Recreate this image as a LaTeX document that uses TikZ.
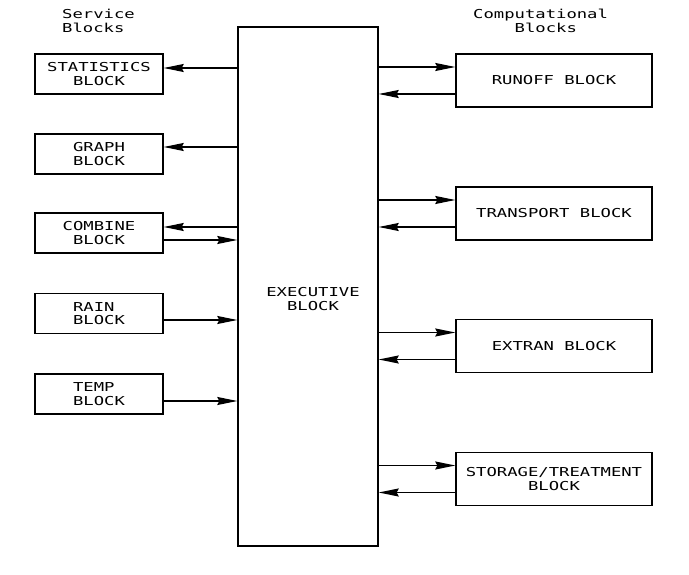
\documentclass[tikz,border=0pt]{standalone}
\usepackage{fontspec}
\newfontfamily\plotfont[FakeStretch=1.4]{DejaVu Sans Mono}
\usetikzlibrary{arrows.meta}
\usetikzlibrary{positioning}
\tikzstyle{txt}=[inner sep=0pt,font=\plotfont\fontsize{12.3}{13.5}\selectfont]
\tikzstyle{svc}=[txt,shape=rectangle,draw,line width=1.4pt,minimum width=128,minimum height=40,align=center]
\tikzstyle{cmp}=[txt,shape=rectangle,draw,line width=1.4pt,minimum width=196,minimum height=53,align=center]
\tikzstyle{flow}=[draw,line width=1.3pt,-{Stealth[length=20pt,width=8pt,inset=2pt]}]

\begin{document}
\begin{tikzpicture}[x=1pt,y=-1pt]
\useasboundingbox (0,0) rectangle (689,575);

% headings
\node[txt,anchor=west,align=left] (srvhdr) at (62,21) {Service\\Blocks};
\node[txt,anchor=west,align=left] (cmphdr) at (473,21) {Computational\\\phantom{xxxx}Blocks};

% executive
\node[draw,line width=1.4pt,minimum width=140,minimum height=519,inner sep=0pt] (exec) at (308,286.5) {};
\node[txt,align=center] (execlbl) at (313,299) {EXECUTIVE\\BLOCK};

% service blocks
\node[svc] (stat) at (99,74) {STATISTICS\\BLOCK};
\node[svc] (graph) at (99,154) {GRAPH\\BLOCK};
\node[svc] (comb) at (99,233) {COMBINE\\BLOCK};
\node[svc,align=left] (rain) at (99,313.5) {RAIN\\BLOCK};
\node[svc,align=left] (temp) at (99,394) {TEMP\\BLOCK};

% computational blocks
\node[cmp] (runoff) at (554,80.5) {RUNOFF BLOCK};
\node[cmp] (trans) at (554,213.5) {TRANSPORT BLOCK};
\node[cmp] (extran) at (554,346) {EXTRAN BLOCK};
\node[cmp] (stor) at (554,479) {STORAGE/TREATMENT\\BLOCK};

\draw[flow] ([yshift=6pt]stat.east -| exec.west) -- ([yshift=6pt]stat.east);
\draw[flow] ([yshift=7pt]graph.east -| exec.west) -- ([yshift=7pt]graph.east);
\draw[flow] ([yshift=6pt]comb.east -| exec.west) -- ([yshift=6pt]comb.east);
\draw[flow] ([yshift=-7pt]comb.east) -- ([yshift=-7pt]comb.east -| exec.west);
\draw[flow] ([yshift=-6.5pt]rain.east) -- ([yshift=-6.5pt]rain.east -| exec.west);
\draw[flow] ([yshift=-7pt]temp.east) -- ([yshift=-7pt]temp.east -| exec.west);

\draw[flow] ([yshift=13.5pt]runoff.west -| exec.east) -- ([yshift=13.5pt]runoff.west);
\draw[flow] ([yshift=-13.5pt]runoff.west) -- ([yshift=-13.5pt]runoff.west -| exec.east);
\draw[flow] ([yshift=13.5pt]trans.west -| exec.east) -- ([yshift=13.5pt]trans.west);
\draw[flow] ([yshift=-13.5pt]trans.west) -- ([yshift=-13.5pt]trans.west -| exec.east);
\draw[flow] ([yshift=13.5pt]extran.west -| exec.east) -- ([yshift=13.5pt]extran.west);
\draw[flow] ([yshift=-13.5pt]extran.west) -- ([yshift=-13.5pt]extran.west -| exec.east);
\draw[flow] ([yshift=13.5pt]stor.west -| exec.east) -- ([yshift=13.5pt]stor.west);
\draw[flow] ([yshift=-13.5pt]stor.west) -- ([yshift=-13.5pt]stor.west -| exec.east);
\end{tikzpicture}
\end{document}
